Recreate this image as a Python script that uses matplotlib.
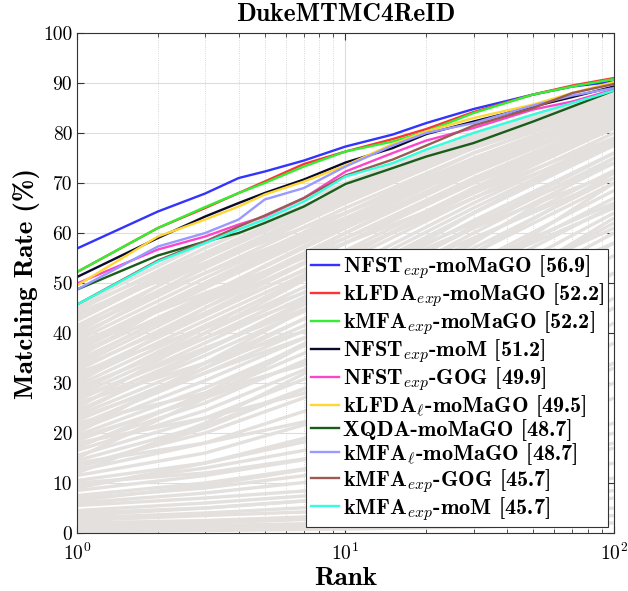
import matplotlib
matplotlib.use('Agg')
import matplotlib.pyplot as plt
import numpy as np

plt.rcParams['font.family'] = 'cmr10'
plt.rcParams['mathtext.fontset'] = 'cm'
plt.rcParams['axes.unicode_minus'] = False
plt.rcParams['axes.formatter.use_mathtext'] = True

# rangos donde se leyeron las curvas de color
ranks = [1, 2, 3, 4, 5, 7, 10, 15, 20, 30, 50, 70, 100]

nombres = [r'NFST$_{exp}$-moMaGO [56.9]',
           r'kLFDA$_{exp}$-moMaGO [52.2]',
           r'kMFA$_{exp}$-moMaGO [52.2]',
           r'NFST$_{exp}$-moM [51.2]',
           r'NFST$_{exp}$-GOG [49.9]',
           r'kLFDA$_{\ell}$-moMaGO [49.5]',
           r'XQDA-moMaGO [48.7]',
           r'kMFA$_{\ell}$-moMaGO [48.7]',
           r'kMFA$_{exp}$-GOG [45.7]',
           r'kMFA$_{exp}$-moM [45.7]']

nfst_mamago = [56.9, 64.3, 67.9, 71.0, 72.3, 74.5, 77.3, 79.7, 82.0, 84.8, 87.7, 89.3, 90.3]
klfda_mamago = [52.2, 61.0, 65.0, 68.0, 70.3, 73.8, 76.3, 78.8, 80.8, 84.2, 87.7, 89.5, 91.0]
kmfa_mamago = [52.2, 61.0, 65.2, 68.0, 70.0, 73.3, 76.3, 78.3, 80.3, 84.0, 87.7, 89.3, 90.8]
nfst_mom = [51.2, 59.0, 63.3, 66.0, 68.0, 70.7, 74.1, 77.0, 79.8, 82.3, 85.3, 87.2, 89.3]
nfst_gog = [49.9, 56.7, 59.3, 61.7, 63.3, 67.0, 72.3, 76.0, 78.5, 81.0, 84.7, 86.3, 88.7]
klfdal_mamago = [49.5, 59.3, 62.7, 65.3, 67.7, 70.3, 73.5, 77.8, 80.3, 83.0, 85.7, 88.0, 90.2]
xqda_mamago = [48.7, 55.5, 58.3, 60.0, 62.0, 65.3, 69.8, 73.0, 75.3, 78.0, 82.3, 85.3, 88.5]
kmfal_mamago = [48.7, 57.3, 60.0, 62.7, 66.7, 69.0, 73.3, 77.5, 80.0, 82.0, 85.5, 87.5, 89.0]
kmfa_gog = [45.7, 54.5, 58.3, 61.3, 63.5, 67.0, 71.5, 74.7, 77.5, 81.5, 85.0, 88.0, 89.8]
kmfa_mom = [45.7, 54.3, 58.0, 60.7, 62.7, 66.3, 71.3, 74.0, 76.7, 80.0, 83.7, 86.0, 88.5]

curvas = [nfst_mamago, klfda_mamago, kmfa_mamago, nfst_mom, nfst_gog,
          klfdal_mamago, xqda_mamago, kmfal_mamago, kmfa_gog, kmfa_mom]
cores = ['#3333ff', '#ff3333', '#33ee33', '#0a0a2a', '#ff44cc',
         '#ffd633', '#1a5c1a', '#9999ff', '#9c5b52', '#33ffdd']

ranks_gris = [1, 3, 10, 30, 100]
grises = [
    [45.5, 58, 70, 80, 88.5], [44.5, 57, 69, 79.5, 88], [43.5, 56, 68.5, 79, 88],
    [42.5, 55.5, 68, 78, 87.5], [41.5, 54, 67, 77.5, 87], [40.5, 53, 66, 77, 86.5],
    [39.5, 52, 65, 76, 86], [38.5, 51, 64, 75, 85.5], [37.5, 50, 63, 74.5, 85],
    [36.5, 49, 62, 73.5, 84.5], [35.5, 47.5, 61, 72.5, 84], [34.5, 46.5, 60, 72, 83.5],
    [33.5, 46, 59, 71, 83], [32.5, 45, 58, 70, 82], [31.5, 43.5, 56.5, 69, 81.5],
    [30.5, 42.5, 55.5, 68, 81], [29.5, 41.5, 54.5, 67, 80], [28.5, 40, 53, 66, 79],
    [27.5, 39, 52, 65, 78.5], [26.5, 38, 51, 64, 77.5], [25.5, 36.5, 49.5, 62.5, 76],
    [24.5, 35.5, 48, 61, 75], [23.5, 34, 46.5, 60, 74], [22.5, 33, 45, 58.5, 72.5],
    [21.5, 32, 44, 57, 71], [20.5, 30.5, 42.5, 56, 70], [19.5, 29, 41, 54, 68.5],
    [18.5, 27.5, 39.5, 52.5, 67], [17.5, 26, 38, 51, 65.5], [16.5, 24.5, 36, 49, 64],
    [15.5, 23, 34, 47, 62], [14.5, 21.5, 32, 45, 60], [13.5, 20, 30, 42.5, 58],
    [12.5, 18, 27, 40, 55.5], [11.5, 16, 24, 36, 52], [10.5, 14, 20, 30, 45],
    [9.5, 13, 18, 27, 42], [8.5, 11.5, 16, 24, 38], [7.5, 10, 14, 21, 34],
    [7, 9, 12.5, 18, 30], [6, 8, 11, 16, 27], [5.5, 7, 9, 13, 22],
    [4.5, 6, 8, 11.5, 20], [4, 5, 7, 10, 17], [3, 4, 5.5, 8, 14],
    [2.5, 3.5, 4.5, 6.5, 11], [2, 2.5, 3.5, 5, 8.5], [1.5, 2, 3, 4, 7],
    [1, 1.5, 2, 3, 5], [0.5, 1, 1.5, 2, 3.5], [0.3, 0.5, 0.8, 1.2, 2],
    [40, 55, 69, 79, 87], [35, 50, 64, 76, 86], [30, 45, 60, 73, 85],
    [25, 40, 55, 69, 82], [20, 34, 49, 64, 79], [15, 27, 42, 58, 75],
    [12, 22, 36, 52, 70], [44, 54, 64, 74, 84], [38, 48, 58, 68, 79],
    [32, 41, 51, 62, 74], [26, 34, 43, 54, 66], [22, 28, 36, 46, 58],
    [18, 23, 30, 40, 52], [14, 18, 24, 33, 45], [10, 12, 16, 22, 34],
    [45, 56, 67, 77, 86], [43, 55, 67.5, 78.5, 87.5], [41, 52, 63, 73, 83],
    [39, 53.5, 66.5, 77.5, 87], [37, 49.5, 62.5, 74, 84], [36, 47, 59, 70, 81],
    [34, 47.5, 61.5, 73.5, 85], [33, 44, 56, 67, 78], [31, 44, 58, 70.5, 82.5],
    [29, 39, 50, 61, 72], [28, 41, 55.5, 68.5, 81], [27, 37, 48, 59, 71],
    [24, 36.5, 50.5, 64, 78], [23, 32, 42, 53, 65], [21, 33, 47, 61.5, 76],
    [19, 27, 37, 48, 61], [17, 28, 42, 56, 72],
    [13, 21, 32, 46, 63], [9, 14, 21, 31, 47],
    [6.5, 9.5, 14, 21, 33], [3.5, 5, 7, 11, 18],
]

fig = plt.figure(figsize=(6.28, 5.91), dpi=100)
ax = fig.add_axes([0.1226, 0.0981, 0.855, 0.846])

for g in grises:
    ax.plot(ranks_gris, g, color='#e3e0de', lw=2.4, solid_capstyle='butt')

for c, cor, nome in zip(curvas, cores, nombres):
    ax.plot(ranks, c, color=cor, lw=1.7, label=nome)

ax.set_xscale('log')
ax.set_xlim(1, 100)
ax.set_ylim(0, 100)
ax.set_yticks(range(0, 101, 10))
ax.set_yticklabels([str(v) for v in range(0, 101, 10)])
ax.tick_params(axis='both', which='both', direction='in', top=True, right=True,
               labelsize=14, color='#333333')
ax.tick_params(which='major', length=5)
ax.tick_params(which='minor', length=3)
ax.tick_params(axis='x', pad=7)
ax.grid(True, which='major', color='#dddddd', lw=0.8)
ax.grid(True, which='minor', axis='x', color='#cccccc', lw=0.6, ls=':')
ax.set_axisbelow(True)
for s in ax.spines.values():
    s.set_color('#333333')

ax.set_title('DukeMTMC4ReID', fontsize=18.5, family='cmb10', pad=9)
ax.set_xlabel('Rank', fontsize=19.5, family='cmb10', labelpad=2)
ax.set_ylabel('Matching Rate (%)', fontsize=19.5, family='cmb10', labelpad=2)

leg = ax.legend(loc='lower right', prop={'family': 'cmb10', 'size': 16},
                handlelength=1.3, handletextpad=0.15, labelspacing=0.0,
                borderpad=0.2, borderaxespad=0.25, fancybox=False,
                framealpha=1, edgecolor='#333333')
leg.get_frame().set_linewidth(0.8)

plt.savefig('out.png', dpi=100)
